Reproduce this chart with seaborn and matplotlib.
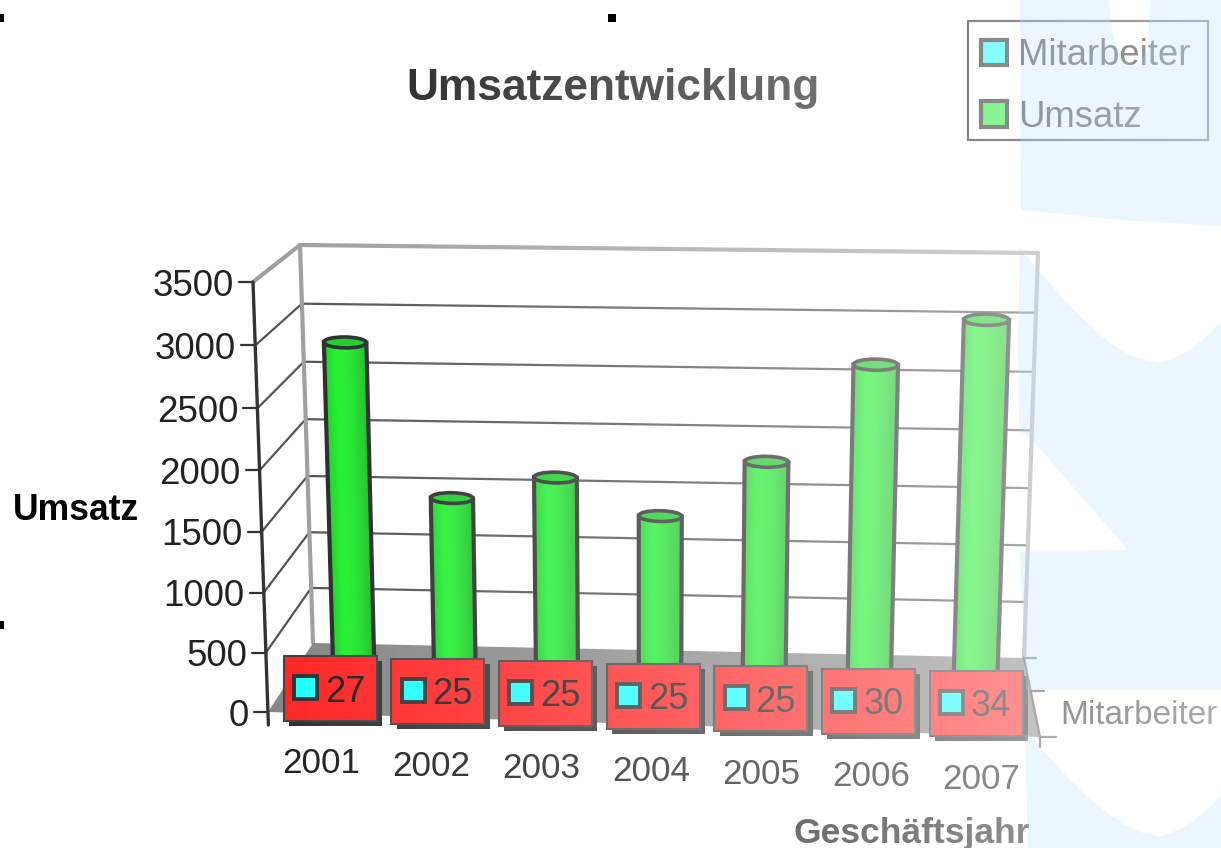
import numpy as np
import pandas as pd
import matplotlib
matplotlib.use('Agg')
import matplotlib.pyplot as plt
import seaborn as sns
from matplotlib.patches import Ellipse, Patch, Polygon, Rectangle
from matplotlib.transforms import Transform

# Data
years = [2001, 2002, 2003, 2004, 2005, 2006, 2007]
umsatz = [2850, 1566, 1754, 1448, 1915, 2720, 3090]
mitarbeiter = [27, 25, 25, 25, 25, 30, 34]
value_ticks = [0, 500, 1000, 1500, 2000, 2500, 3000, 3500]

W, H = 1221, 848
BAR_W = 0.41
CYAN = '#22ffff'
GREEN = '#22f030'
DARK = '#2b2b2b'


def homography(src, dst):
    # solve the 3x3 perspective matrix from four point pairs
    rows, rhs = [], []
    for (x, y), (u, v) in zip(src, dst):
        rows.append([x, y, 1, 0, 0, 0, -u * x, -u * y])
        rows.append([0, 0, 0, x, y, 1, -v * x, -v * y])
        rhs += [u, v]
    return np.append(np.linalg.solve(np.array(rows, float), np.array(rhs, float)), 1).reshape(3, 3)


class Perspective(Transform):
    input_dims = 2
    output_dims = 2

    def __init__(self, m):
        super().__init__()
        self.m = m

    def transform_non_affine(self, values):
        pts = np.column_stack([values, np.ones(len(values))]) @ self.m.T
        return pts[:, :2] / pts[:, 2:]


def plane(tl, tr, bl, br, x0=0, x1=1):
    return Perspective(homography([(x0, 3500), (x1, 3500), (x0, 0), (x1, 0)], [tl, tr, bl, br]))


# the 3d box of the chart, given by where its corners land on the picture
back = plane((300, 245), (1038, 253), (313, 643), (1024, 658))
front = plane((253, 282), (1056, 292), (268, 712), (1040, 737))
bars_plane = plane((343, 263), (988, 268), (354, 678), (975, 695), 0, 6)
box_row = plane((330, 188), (976, 203), (330, 688), (976, 703), 0, 6)
year_row = plane((321, 260), (981, 276), (321, 760), (981, 776), 0, 6)

sns.set_style('white')
plt.rcParams['font.family'] = ['Liberation Sans', 'DejaVu Sans']

fig = plt.figure(figsize=(W / 100, H / 100), dpi=100, facecolor='white')
ax = fig.add_axes([0, 0, 1, 1])

df = pd.DataFrame({'Jahr': years, 'Umsatz': umsatz})
sns.barplot(data=df, x='Jahr', y='Umsatz', color=GREEN, width=BAR_W, ax=ax)
bars = list(ax.patches)
ax.set_autoscale_on(False)
ax.set_xlim(0, W)
ax.set_ylim(H, 0)
ax.axis('off')

bar_tf = bars_plane + ax.transData


def line(p0, p1, color, lw, z=1):
    ax.plot([p0[0], p1[0]], [p0[1], p1[1]], color=color, lw=lw, zorder=z, solid_capstyle='round')


def at(tf, x, y):
    return tf.transform_non_affine(np.array([[x, y]], float))[0]


# walls and floor
floor = [at(back, 0, 0), at(back, 1, 0), at(front, 1, 0), at(front, 0, 0)]
ax.add_patch(Polygon(floor, closed=True, fc='#888888', ec='none', zorder=1.5))
for v in value_ticks:
    col, lw = ('#a0a0a0', 3) if v == 3500 else ('#555555', 1.6)
    if v > 0:
        line(at(back, 0, v), at(back, 1, v), col, lw)
        line(at(back, 0, v), at(front, 0, v), col, lw)
    p = at(front, 0, v)
    line((p[0] - 14, p[1]), p, '#333333', 1.6, 2)
    ax.text(p[0] - 19, p[1], str(v), ha='right', va='center_baseline', fontsize=26.5, color='#222222', zorder=7)
line(at(back, 0, 3500), at(back, 0, 0), '#a0a0a0', 3)
line(at(back, 1, 3500), at(back, 1, 0), '#a0a0a0', 3)
p0, p1 = at(front, 0, 3500), at(front, 0, 0)
line(p0, (p1[0] + 0.4, p1[1] + 13), '#333333', 2.4, 2)

# depth ticks on the right side
end = at(front, 1, 0)
start = at(back, 1, 0)
line(start, end, '#555555', 1.6, 2)
for f, tick in [(0, 12), (0.42, 13), (1, 16)]:
    q = start + (end - start) * f
    line(q, (q[0] + tick, q[1]), '#555555', 1.6, 2)
line(end, (end[0], end[1] + 10), '#555555', 1.6, 2)

# cylinders: the seaborn bars get the projection and a shading
shade = np.array([0.86, 0.93, 1.0, 1.0, 0.97, 0.92, 0.86, 0.8])
base = np.array(matplotlib.colors.to_rgb(GREEN))
for bar in bars:
    x, w, h = bar.get_x(), bar.get_width(), bar.get_height()
    n = 32
    for k in range(n):
        col = base * np.interp(k / (n - 1), np.linspace(0, 1, len(shade)), shade)
        strip = Rectangle((x + w * k / n, 0), w / n, h, fc=col, ec=col, lw=0.8, zorder=3)
        ax.add_patch(strip)
        strip.set_transform(bar_tf)
    bar.set_transform(bar_tf)
    bar.set(facecolor='none', edgecolor=DARK, linewidth=3, zorder=4)
    top = Ellipse((x + w / 2, h), w, 90, fc=base * 0.85, ec=DARK, lw=2.6, zorder=4.5)
    ax.add_patch(top)
    top.set_transform(bar_tf)

# value boxes and year labels
for i, (year, n) in enumerate(zip(years, mitarbeiter)):
    cx, cy = at(box_row, i, 0)
    ax.add_patch(Rectangle((cx - 41, cy - 27), 93, 65, fc='#333333', ec='none', zorder=5.5))
    ax.add_patch(Rectangle((cx - 46.5, cy - 32), 93, 65, fc='#ff2828', ec='#444444', lw=1.5, zorder=6))
    ax.add_patch(Rectangle((cx - 36, cy - 12), 23, 23, fc=CYAN, ec='#333333', lw=2.8, zorder=7))
    ax.text(cx + 15, cy, str(n), ha='center', va='center_baseline', fontsize=26, color='#222222', zorder=7)
    yx, yy = at(year_row, i, 0)
    ax.text(yx, yy, str(year), ha='center', va='center_baseline', fontsize=25.2, color='#222222', zorder=7)

# titles
ax.text(613, 84, 'Umsatzentwicklung', ha='center', va='center_baseline', fontsize=31.9,
        fontweight='bold', color='#222222', zorder=7)
ax.text(13, 506, 'Umsatz', ha='left', va='center_baseline', fontsize=25.6, fontweight='bold', color='black', zorder=7)
ax.text(1030, 830, 'Geschäftsjahr', ha='right', va='center_baseline', fontsize=25.5,
        fontweight='bold', color='#222222', zorder=7)
ax.text(1060, 712, 'Mitarbeiter', ha='left', va='center_baseline', fontsize=24, color='#222222', zorder=7)

# legend: own frame, because the rows do not sit centred in it
ax.add_patch(Rectangle((968, 21), 240, 119, fc='white', ec='#222222', lw=1.6, zorder=6))
leg = ax.legend(handles=[Patch(fc=CYAN, ec='#222222', lw=3, label='Mitarbeiter'),
                         Patch(fc=GREEN, ec='#222222', lw=3, label='Umsatz')],
                loc='upper left', bbox_to_anchor=(966 / W, 1 - 23 / H), bbox_transform=fig.transFigure,
                borderaxespad=0, fontsize=26.3, frameon=False, handlelength=0.7, handleheight=0.7,
                handletextpad=0.3, labelspacing=0.73, borderpad=0.42)
for t in leg.get_texts():
    t.set_color('black')
leg.set_zorder(7)

# selection handles
ax.scatter([0, 612, 0], [18, 18, 625], marker='s', s=32, color='black', linewidths=0, zorder=12, clip_on=True)

# the picture fades to white towards the right
ramp = np.clip((np.arange(W) - 290) / 700 * 0.47, 0, 0.62)
fade = np.ones((1, W, 4))
fade[0, :, 3] = ramp
ax.imshow(fade, extent=[0, W, H, 0], aspect='auto', zorder=9, interpolation='bilinear')
ax.set_xlim(0, W)
ax.set_ylim(H, 0)

# pale blue background shapes
shapes = [
    [(1020, 0), (1109, 0), (1112, 30), (1122, 60), (1137, 68), (1148, 50), (1150, 0), (1221, 0),
     (1221, 226), (1120, 220), (1021, 210)],
    [(1020, 248), (1040, 272), (1060, 295), (1080, 316), (1100, 335), (1115, 346), (1130, 355), (1145, 360),
     (1160, 362), (1175, 358), (1190, 350), (1205, 338), (1221, 322),
     (1221, 690), (1026, 690), (1020, 552), (1128, 550), (1033, 441), (1019, 430), (1018, 340)],
    [(1025, 735), (1030, 735), (1050, 758), (1070, 780), (1090, 799), (1110, 815), (1125, 825), (1140, 832),
     (1160, 837), (1178, 830), (1195, 820), (1208, 809), (1221, 797),
     (1221, 848), (1028, 848)],
]
for s in shapes:
    ax.add_patch(Polygon(s, closed=True, fc='#b8e3f8', ec='none', alpha=0.27, zorder=10))

fig.savefig('out.png', dpi=100)
